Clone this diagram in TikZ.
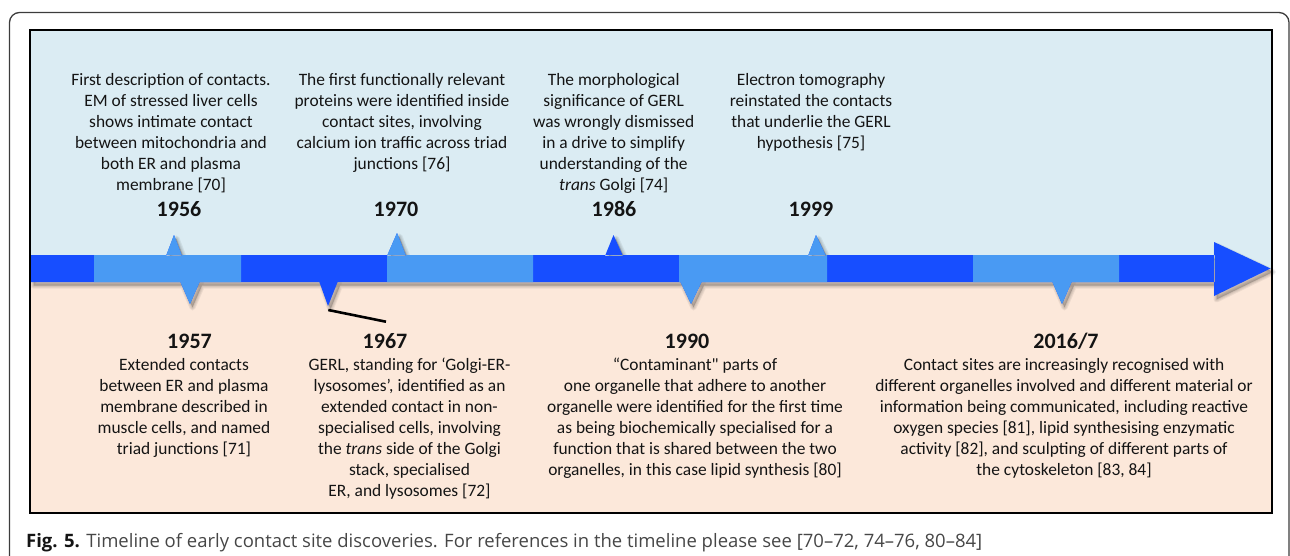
\documentclass[tikz,border=0pt]{standalone}
\usepackage{fontspec}
\setmainfont{Carlito}[Ligatures=TeXOff]
\newfontfamily\capfont{Open Sans}[Ligatures=TeXOff]
\usepackage{graphicx}
\definecolor{topbg}{RGB}{219,236,243}
\definecolor{botbg}{RGB}{252,232,218}
\definecolor{darkbl}{RGB}{23,78,255}
\definecolor{lightbl}{RGB}{73,154,243}
\definecolor{txtcol}{RGB}{20,20,20}
\definecolor{capgray}{RGB}{70,70,70}
\definecolor{framegray}{RGB}{60,60,60}
\newcommand{\blk}[1]{\begin{tabular}[t]{@{}c@{}}#1\end{tabular}}
\tikzset{
  txt/.style={anchor=base, inner sep=0pt, font=\fontsize{17.4}{21}\selectfont, text=txtcol},
  yr/.style={anchor=base, inner sep=0pt, font=\fontsize{22}{26}\selectfont\bfseries, text=txtcol},
  barshape/.style={insert path={
    (31,255) rectangle (1215,282)
    (1214,242) -- (1270.5,268.5) -- (1214,296) -- cycle
    (166,256) -- (174,235) -- (182,256) -- cycle
    (387,256) -- (397,233) -- (406,256) -- cycle
    (605,256) -- (613.5,235) -- (623,256) -- cycle
    (808,256) -- (816,235) -- (826,256) -- cycle
    (180,281) -- (190,304) -- (200,281) -- cycle
    (319,281) -- (328,306) -- (338,281) -- cycle
    (680,281) -- (691,304) -- (702,281) -- cycle
    (1052,281) -- (1062,304) -- (1072,281) -- cycle
  }},
  lightpart/.style={insert path={
    (94,255) rectangle (241,282)
    (387,255) rectangle (533,282)
    (679,255) rectangle (827,282)
    (973,255) rectangle (1119,282)
    (166,256) -- (174,235) -- (182,256) -- cycle
    (387,256) -- (397,233) -- (406,256) -- cycle
    (808,256) -- (816,235) -- (826,256) -- cycle
    (180,281) -- (190,304) -- (200,281) -- cycle
    (680,281) -- (691,304) -- (702,281) -- cycle
    (1052,281) -- (1062,304) -- (1072,281) -- cycle
  }},
  leader/.style={line width=2.6pt, draw=black}
}
\begin{document}
\begin{tikzpicture}[x=1pt, y=-1pt]
\useasboundingbox (0,0) rectangle (1290,555);
\begin{scope}
\clip (0,0) rectangle (1290,555);
% outer frame
\draw[framegray, line width=1.3pt, rounded corners=10pt] (9.5,620) -- (9.5,12.5) -- (1289,12.5) -- (1289,620);
% inner panel
\fill[topbg] (30,30) rectangle (1272,268.5);
\fill[botbg] (30,268.5) rectangle (1272,513);
% shadow of the timeline bar
\begin{scope}[shift={(2.5,3.5)}]
  \foreach \w in {6,4,2} {
    \path[draw=black, line width=\w pt, line join=round, draw opacity=0.06, barshape];
  }
  \path[fill=black, fill opacity=0.2, barshape];
\end{scope}
\draw[black, line width=2.6pt] (30,30) rectangle (1272,513);
% timeline bar
\path[fill=darkbl, barshape];
\path[fill=lightbl, lightpart];
% leader line of 1967
\coordinate (t1967) at (328.3,310);
\coordinate (l1967) at (386,321.7);
\draw[leader] (t1967) -- (l1967);
\end{scope}

% upper texts
\node[txt] (d1956) at (171,85) {\blk{First description of contacts.\\EM of stressed liver cells\\shows intimate contact\\between mitochondria and\\both ER and plasma\\membrane [70]}};
\node[yr] (y1956) at (179,216) {1956};
\node[txt] (d1970) at (402,85) {\blk{The first functionally relevant\\proteins were identified inside\\contact sites, involving\\calcium ion traffic across triad\\junctions [76]}};
\node[yr] (y1970) at (396,216) {1970};
\node[txt] (d1986) at (613.7,85) {\blk{The morphological\\significance of GERL\\was wrongly dismissed\\in a drive to simplify\\understanding of the\\\textit{trans} Golgi [74]}};
\node[yr] (y1986) at (614,216) {1986};
\node[txt] (d1999) at (811,85) {\blk{Electron tomography\\reinstated the contacts\\that underlie the GERL\\hypothesis [75]}};
\node[yr] (y1999) at (811,216) {1999};

% lower texts
\node[yr] (y1957) at (189.5,348) {1957};
\node[txt] (d1957) at (184,370.7) {\blk{Extended contacts\\between ER and plasma\\membrane described in\\muscle cells, and named\\triad junctions [71]}};
\node[yr] (y1967) at (385,348) {1967};
\node[txt] (d1967) at (409.5,370.7) {\blk{GERL, standing for ‘Golgi-ER-\\lysosomes’, identified as an\\extended contact in non-\\specialised cells, involving\\the \textit{trans} side of the Golgi\\stack, specialised\\ER, and lysosomes [72]}};
\node[yr] (y1990) at (687,348) {1990};
\node[txt] (d1990) at (695,370.7) {\blk{“Contaminant" parts of\\one organelle that adhere to another\\organelle were identified for the first time\\as being biochemically specialised for a\\function that is shared between the two\\organelles, in this case lipid synthesis [80]}};
\node[yr] (y2016) at (1066,348) {2016/7};
\node[txt] (d2016) at (1064,370.7) {\blk{Contact sites are increasingly recognised with\\different organelles involved and different material or\\information being communicated, including reactive\\oxygen species [81], lipid synthesising enzymatic\\activity [82], and sculpting of different parts of\\the cytoskeleton [83, 84]}};

% caption
\node[anchor=base west, inner sep=0pt] (cap) at (26,547) {\resizebox{956pt}{!}{\capfont\fontsize{17}{20}\selectfont\textcolor{txtcol}{\textbf{Fig. 5.}} \textcolor{capgray}{Timeline of early contact site discoveries. For references in the timeline please see [70–72, 74–76, 80–84]}}};
\end{tikzpicture}
\end{document}
